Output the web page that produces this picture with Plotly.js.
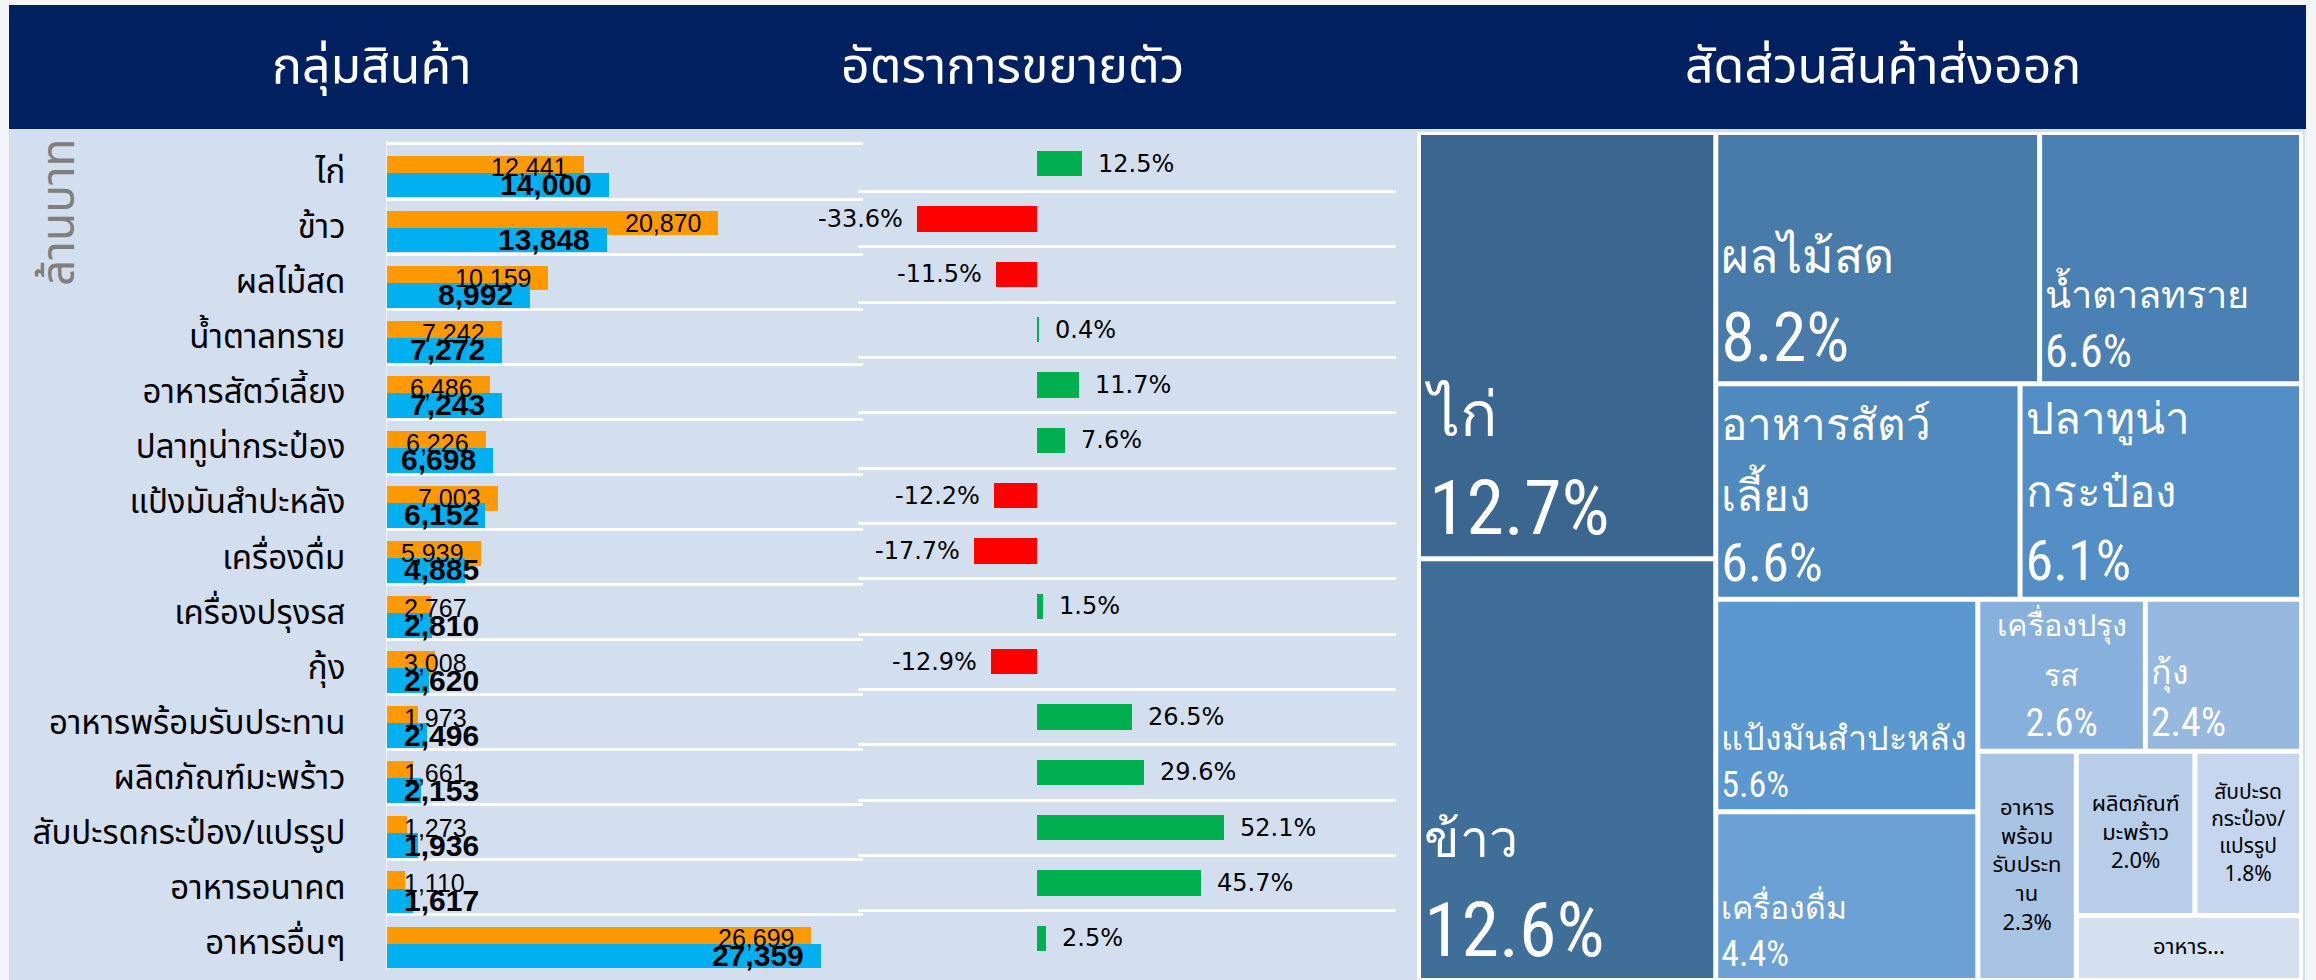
<!DOCTYPE html>
<html><head><meta charset="utf-8">
<script src="https://cdn.plot.ly/plotly-3.0.1.min.js"></script>
<style>html,body{margin:0;padding:0;background:#F3F5F8;overflow:hidden}</style>
</head><body><div id="chart" style="width:2316px;height:980px"></div>
<script>
// ---------------- data ----------------
const categories = ['ไก่','ข้าว','ผลไม้สด','น้ำตาลทราย','อาหารสัตว์เลี้ยง','ปลาทูน่ากระป๋อง','แป้งมันสำปะหลัง','เครื่องดื่ม','เครื่องปรุงรส','กุ้ง','อาหารพร้อมรับประทาน','ผลิตภัณฑ์มะพร้าว','สับปะรดกระป๋อง/แปรรูป','อาหารอนาคต','อาหารอื่นๆ'];
const valuesPrev = [12441,20870,10159,7242,6486,6226,7003,5939,2767,3008,1973,1661,1273,1110,26699];
const valuesCurr = [14000,13848,8992,7272,7243,6698,6152,4885,2810,2620,2496,2153,1936,1617,27359];
const growth = [12.5,-33.6,-11.5,0.4,11.7,7.6,-12.2,-17.7,1.5,-12.9,26.5,29.6,52.1,45.7,2.5];
const headerTitles = ['กลุ่มสินค้า','อัตราการขยายตัว','สัดส่วนสินค้าส่งออก'];
const unitLabel = 'ล้านบาท';
// treemap: categories shown (all except อาหารอื่นๆ) with wrapped labels as in the reference
const treemapCats = ['ไก่','ข้าว','ผลไม้สด','น้ำตาลทราย','อาหารสัตว์เลี้ยง','ปลาทูน่ากระป๋อง','แป้งมันสำปะหลัง','เครื่องดื่ม','เครื่องปรุงรส','กุ้ง','อาหารพร้อมรับประทาน','ผลิตภัณฑ์มะพร้าว','สับปะรดกระป๋อง/แปรรูป','อาหารอนาคต'];
const treemapLabels = ['ไก่','ข้าว','ผลไม้สด','น้ำตาลทราย','อาหารสัตว์<br>เลี้ยง','ปลาทูน่า<br>กระป๋อง','แป้งมันสำปะหลัง','เครื่องดื่ม','เครื่องปรุง<br>รส','กุ้ง','อาหาร<br>พร้อม<br>รับประท<br>าน','ผลิตภัณฑ์<br>มะพร้าว','สับปะรด<br>กระป๋อง/<br>แปรรูป','อาหาร...'];
const treemapShowPct = [true,true,true,true,true,true,true,true,true,true,true,true,true,false];
const treemapCentered = [false,false,false,false,false,false,false,false,true,false,true,true,true,true];
const treemapColors = ['#3B6690','#3F6E98','#487AAA','#4A80B4','#5089BE','#538EC6','#5A98CF','#6CA1D5','#87B0DC','#97B8DF','#A9C3E4','#B8CDE8','#C5D6EE','#D5E0F1'];
const treemapTextColors = ['#FFFFFF','#FFFFFF','#FFFFFF','#FFFFFF','#FFFFFF','#FFFFFF','#FFFFFF','#FFFFFF','#FFFFFF','#FFFFFF','#000000','#000000','#000000','#000000'];
const treemapPctSizes = [76,76,68,46,54,56,36,36,40,40,22,22,21,22];
const treemapLabelSizes = [62,52,48,38,44,44,34,32,32,34,22,22,21,22];
// hierarchy (structure only) reproducing the reference tiling
const treemapTree = [
  ['root',''],
  ['g1','root'],['ไก่','g1'],['ข้าว','g1'],
  ['g2','root'],
  ['g3','g2'],['ผลไม้สด','g3'],['น้ำตาลทราย','g3'],
  ['g4','g2'],['อาหารสัตว์เลี้ยง','g4'],['ปลาทูน่ากระป๋อง','g4'],
  ['g5','g2'],
  ['g6','g5'],['แป้งมันสำปะหลัง','g6'],['เครื่องดื่ม','g6'],
  ['g7','g5'],
  ['g8','g7'],['เครื่องปรุงรส','g8'],['กุ้ง','g8'],
  ['g9','g7'],['อาหารพร้อมรับประทาน','g9'],
  ['g10','g9'],
  ['g11','g10'],['ผลิตภัณฑ์มะพร้าว','g11'],['สับปะรดกระป๋อง/แปรรูป','g11'],
  ['อาหารอนาคต','g10']
];

// ---------------- layout helpers ----------------
const W = 2316, H = 980;
const px = x => x / W;
const py = y => 1 - y / H;
const thaiFont = 'Tahoma, "Noto Sans Thai", Loma, Garuda, "DejaVu Sans", sans-serif';
const numFont = '"Liberation Sans", Arial, sans-serif';
const pctFont = '"DejaVu Sans", Verdana, sans-serif';
const narrowFont = '"Liberation Sans Narrow", "Roboto Condensed", "DejaVu Sans Condensed", "Liberation Sans", sans-serif';

const total = valuesCurr.reduce((a, b) => a + b, 0);

// ---------------- traces ----------------
const traces = [];
traces.push({
  type: 'bar', orientation: 'h', x: valuesPrev, y: categories,
  offset: -0.29, width: 0.45, marker: {color: '#FF9900'},
  xaxis: 'x', yaxis: 'y', hoverinfo: 'none', name: 'prev'
});
traces.push({
  type: 'bar', orientation: 'h', x: valuesCurr, y: categories,
  offset: 0.02, width: 0.45, marker: {color: '#00B0F0'},
  xaxis: 'x', yaxis: 'y', hoverinfo: 'none', name: 'curr'
});
traces.push({
  type: 'bar', orientation: 'h', x: growth, y: categories,
  width: 0.46, marker: {color: growth.map(g => g >= 0 ? '#00B050' : '#FF0000')},
  xaxis: 'x2', yaxis: 'y2', hoverinfo: 'none', name: 'growth'
});

// treemap (two identical tilings: one filled with bottom-left labels, one transparent with centred labels)
function buildTreemap(centeredPass) {
  const o = {ids: [], parents: [], values: [], text: [], colors: [], fc: [], fs: [], ff: []};
  treemapTree.forEach(([id, parent]) => {
    o.ids.push(id); o.parents.push(parent);
    const k = treemapCats.indexOf(id);
    if (k >= 0) {
      const v = valuesCurr[categories.indexOf(id)];
      o.values.push(v);
      const big = treemapPctSizes[k] > 30;
      const pct = (v / total * 100).toFixed(1) + '%';
      const label = big ? '<span style="font-size:' + treemapLabelSizes[k] + 'px">' + treemapLabels[k] + '</span>' : treemapLabels[k];
      const full = label + (treemapShowPct[k] ? '<br>' + pct : '');
      o.text.push(treemapCentered[k] === centeredPass ? full : '');
      o.colors.push(centeredPass ? 'rgba(0,0,0,0)' : treemapColors[k]);
      o.fc.push(treemapTextColors[k]);
      o.fs.push(treemapPctSizes[k]);
      o.ff.push(big ? narrowFont : thaiFont);
    } else {
      o.values.push(0); o.text.push('');
      o.colors.push(centeredPass ? 'rgba(0,0,0,0)' : '#FFFFFF');
      o.fc.push('#FFFFFF'); o.fs.push(10); o.ff.push(thaiFont);
    }
  });
  return {
    type: 'treemap', ids: o.ids, labels: o.ids, parents: o.parents, values: o.values,
    branchvalues: 'remainder', sort: false, text: o.text, textinfo: 'text',
    textposition: centeredPass ? 'middle center' : 'bottom left', hoverinfo: 'none',
    textfont: {family: o.ff, size: o.fs, color: o.fc},
    marker: {colors: o.colors, line: {width: 0}, pad: {t: 0, l: 0, r: 0, b: 0}, depthfade: false},
    leaf: {opacity: 1},
    tiling: {packing: 'slice-dice', pad: 5},
    pathbar: {visible: false},
    domain: {x: [px(1421), px(2299)], y: [py(978), py(135)]}
  };
}
traces.push(buildTreemap(false));
traces.push(buildTreemap(true));

// ---------------- annotations ----------------
const annotations = [];
const headerX = [372, 1012, 1883];
headerTitles.forEach((t, i) => annotations.push({
  xref: 'paper', yref: 'paper', x: px(headerX[i]), y: py(68), text: t, showarrow: false,
  xanchor: 'center', yanchor: 'middle', font: {family: thaiFont, size: 50, color: '#FFFFFF'}
}));
annotations.push({
  xref: 'paper', yref: 'paper', x: px(60), y: py(212), text: unitLabel, showarrow: false,
  textangle: -90, xanchor: 'center', yanchor: 'middle',
  font: {family: thaiFont, size: 46, color: '#7F7F7F'}
});
// value labels (inside end when they fit, else at base)
const xPxPerUnit = (863 - 387) / 30000;
const estWidth = (s, size) => s.split('').reduce((a, c) => a + (c === ',' ? 0.278 : 0.556), 0) * size;
const PAD = 15;
function addValueLabel(v, cat, size, bold, yshift) {
  const s = v.toLocaleString('en-US');
  const fits = v * xPxPerUnit >= estWidth(s, size) + 2 * PAD;
  annotations.push({
    xref: 'x', yref: 'y', x: fits ? v : 0, y: cat, text: bold ? '<b>' + s + '</b>' : s,
    showarrow: false, xanchor: fits ? 'right' : 'left', yanchor: 'middle',
    xshift: fits ? -PAD : PAD, yshift: yshift,
    font: {family: numFont, size: size, color: '#000000'}
  });
}
categories.forEach((c, i) => {
  addValueLabel(valuesPrev[i], c, 25, false, 4);
  addValueLabel(valuesCurr[i], c, 30, true, -13);
});
growth.forEach((g, i) => annotations.push({
  xref: 'x2', yref: 'y2', x: g, y: categories[i], text: g.toFixed(1) + '%', showarrow: false,
  xanchor: g >= 0 ? 'left' : 'right', yanchor: 'middle', xshift: g >= 0 ? 14 : -12,
  font: {family: pctFont, size: 24, color: '#000000'}
}));

// ---------------- shapes (background panels) ----------------
const shapes = [
  {type: 'rect', xref: 'paper', yref: 'paper', x0: px(9), x1: px(2306), y0: py(129), y1: py(5), fillcolor: '#002060', line: {width: 0}, layer: 'below'},
  {type: 'rect', xref: 'paper', yref: 'paper', x0: px(9), x1: px(2305), y0: py(980), y1: py(129), fillcolor: '#D3DEEF', line: {width: 0}, layer: 'below'},
  {type: 'rect', xref: 'paper', yref: 'paper', x0: px(1417), x1: px(2303), y0: py(980), y1: py(132), fillcolor: '#FFFFFF', line: {width: 0}, layer: 'below'}
];

const layout = {
  width: W, height: H, margin: {l: 0, r: 0, t: 0, b: 0},
  paper_bgcolor: '#F3F5F8', plot_bgcolor: 'rgba(0,0,0,0)',
  showlegend: false, barmode: 'overlay', bargap: 0,
  xaxis: {domain: [px(387), px(863)], range: [0, 30000], visible: false, fixedrange: true},
  yaxis: {domain: [py(970), py(140)], type: 'category', categoryorder: 'array', categoryarray: categories,
    autorange: 'reversed', tickson: 'boundaries', showgrid: true, gridcolor: '#FFFFFF', gridwidth: 3,
    ticks: '', ticklabelstandoff: 34, showline: true, linecolor: '#EEF2F8', linewidth: 1, zeroline: false,
    tickfont: {family: thaiFont, size: 33, color: '#000000'}, fixedrange: true},
  xaxis2: {domain: [px(858), px(1396)], range: [-50, 100], visible: false, anchor: 'y2', fixedrange: true},
  yaxis2: {domain: [py(966), py(136)], type: 'category', categoryorder: 'array', categoryarray: categories,
    autorange: 'reversed', tickson: 'boundaries', showgrid: true, gridcolor: '#FFFFFF', gridwidth: 3,
    ticks: '', showticklabels: false, showline: false, zeroline: false, anchor: 'x2', fixedrange: true},
  annotations: annotations, shapes: shapes
};

Plotly.newPlot('chart', traces, layout, {displayModeBar: false, staticPlot: true});
</script>
</body></html>
